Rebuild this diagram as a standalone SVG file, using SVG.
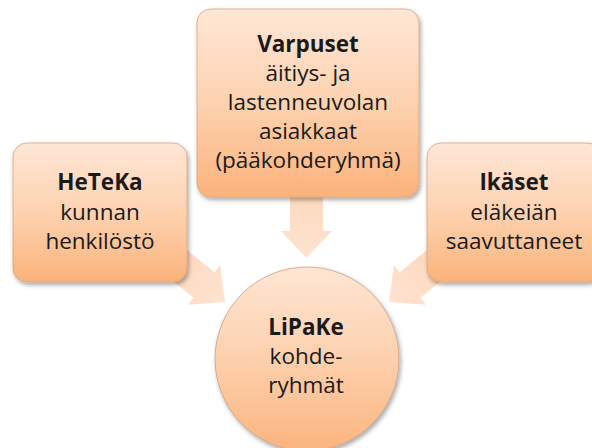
<svg xmlns="http://www.w3.org/2000/svg" width="592" height="448" viewBox="0 0 592 448">
  <defs>
    <linearGradient id="boxFill" x1="0" y1="0" x2="0" y2="1">
      <stop offset="0" stop-color="#fee7d6"/>
      <stop offset="0.5" stop-color="#fdd2b0"/>
      <stop offset="1" stop-color="#fbb27b"/>
    </linearGradient>
    <linearGradient id="circleFill" x1="0" y1="0" x2="0" y2="1">
      <stop offset="0" stop-color="#fee6d4"/>
      <stop offset="0.5" stop-color="#fdd0ad"/>
      <stop offset="1" stop-color="#fbb47e"/>
    </linearGradient>
    <linearGradient id="arrowFill" x1="0" y1="0" x2="1" y2="0">
      <stop offset="0" stop-color="#fdd6b8"/>
      <stop offset="1" stop-color="#fee3d0"/>
    </linearGradient>
    <filter id="shadow" x="-10%" y="-10%" width="125%" height="125%">
      <feDropShadow dx="1.5" dy="2.5" stdDeviation="2" flood-color="#000" flood-opacity="0.35"/>
    </filter>
    <!-- block arrow pointing along +x, tip at origin -->
    <path id="blockArrow" d="M0,0 L-27,-25.5 L-27,-16.5 L-90,-16.5 L-90,16.5 L-27,16.5 L-27,25.5 Z"/>
  </defs>
  <style>
    .node { fill: url(#boxFill); stroke: #d9a27a; stroke-width: 0.8; filter: url(#shadow); }
    .hub { fill: url(#circleFill); stroke: #c9a084; stroke-width: 0.8; filter: url(#shadow); }
    .arrow { fill: url(#arrowFill); }
    text { font-family: "Open Sans", "Noto Sans", "DejaVu Sans", sans-serif; font-size: 22.5px; fill: #1a1a1a; text-anchor: middle; }
    .title { font-weight: bold; }
  </style>

  <rect width="592" height="448" fill="#ffffff"/>

  <g id="connectors">
    <use href="#blockArrow" class="arrow" transform="translate(306.5,258) rotate(90)"/>
    <use href="#blockArrow" class="arrow" transform="translate(225,302) rotate(39)"/>
    <use href="#blockArrow" class="arrow" transform="translate(389,302) rotate(141)"/>
  </g>

  <g id="varpuset">
    <rect class="node" x="197" y="9" width="222" height="188" rx="14"/>
    <text x="308" y="52" class="title">Varpuset</text>
    <text x="308" y="81">äitiys- ja</text>
    <text x="308" y="110">lastenneuvolan</text>
    <text x="308" y="139">asiakkaat</text>
    <text x="308" y="168">(pääkohderyhmä)</text>
  </g>

  <g id="heteka">
    <rect class="node" x="13" y="143" width="174" height="139" rx="14"/>
    <text x="100" y="190" class="title">HeTeKa</text>
    <text x="100" y="220">kunnan</text>
    <text x="100" y="249">henkilöstö</text>
  </g>

  <g id="ikaset">
    <rect class="node" x="427" y="143" width="174" height="139" rx="14"/>
    <text x="514" y="190" class="title">Ikäset</text>
    <text x="514" y="220">eläkeiän</text>
    <text x="514" y="249">saavuttaneet</text>
  </g>

  <g id="lipake">
    <circle class="hub" cx="307" cy="359" r="92"/>
    <text x="306" y="335" class="title">LiPaKe</text>
    <text x="306" y="364">kohde-</text>
    <text x="306" y="393">ryhmät</text>
  </g>
</svg>
